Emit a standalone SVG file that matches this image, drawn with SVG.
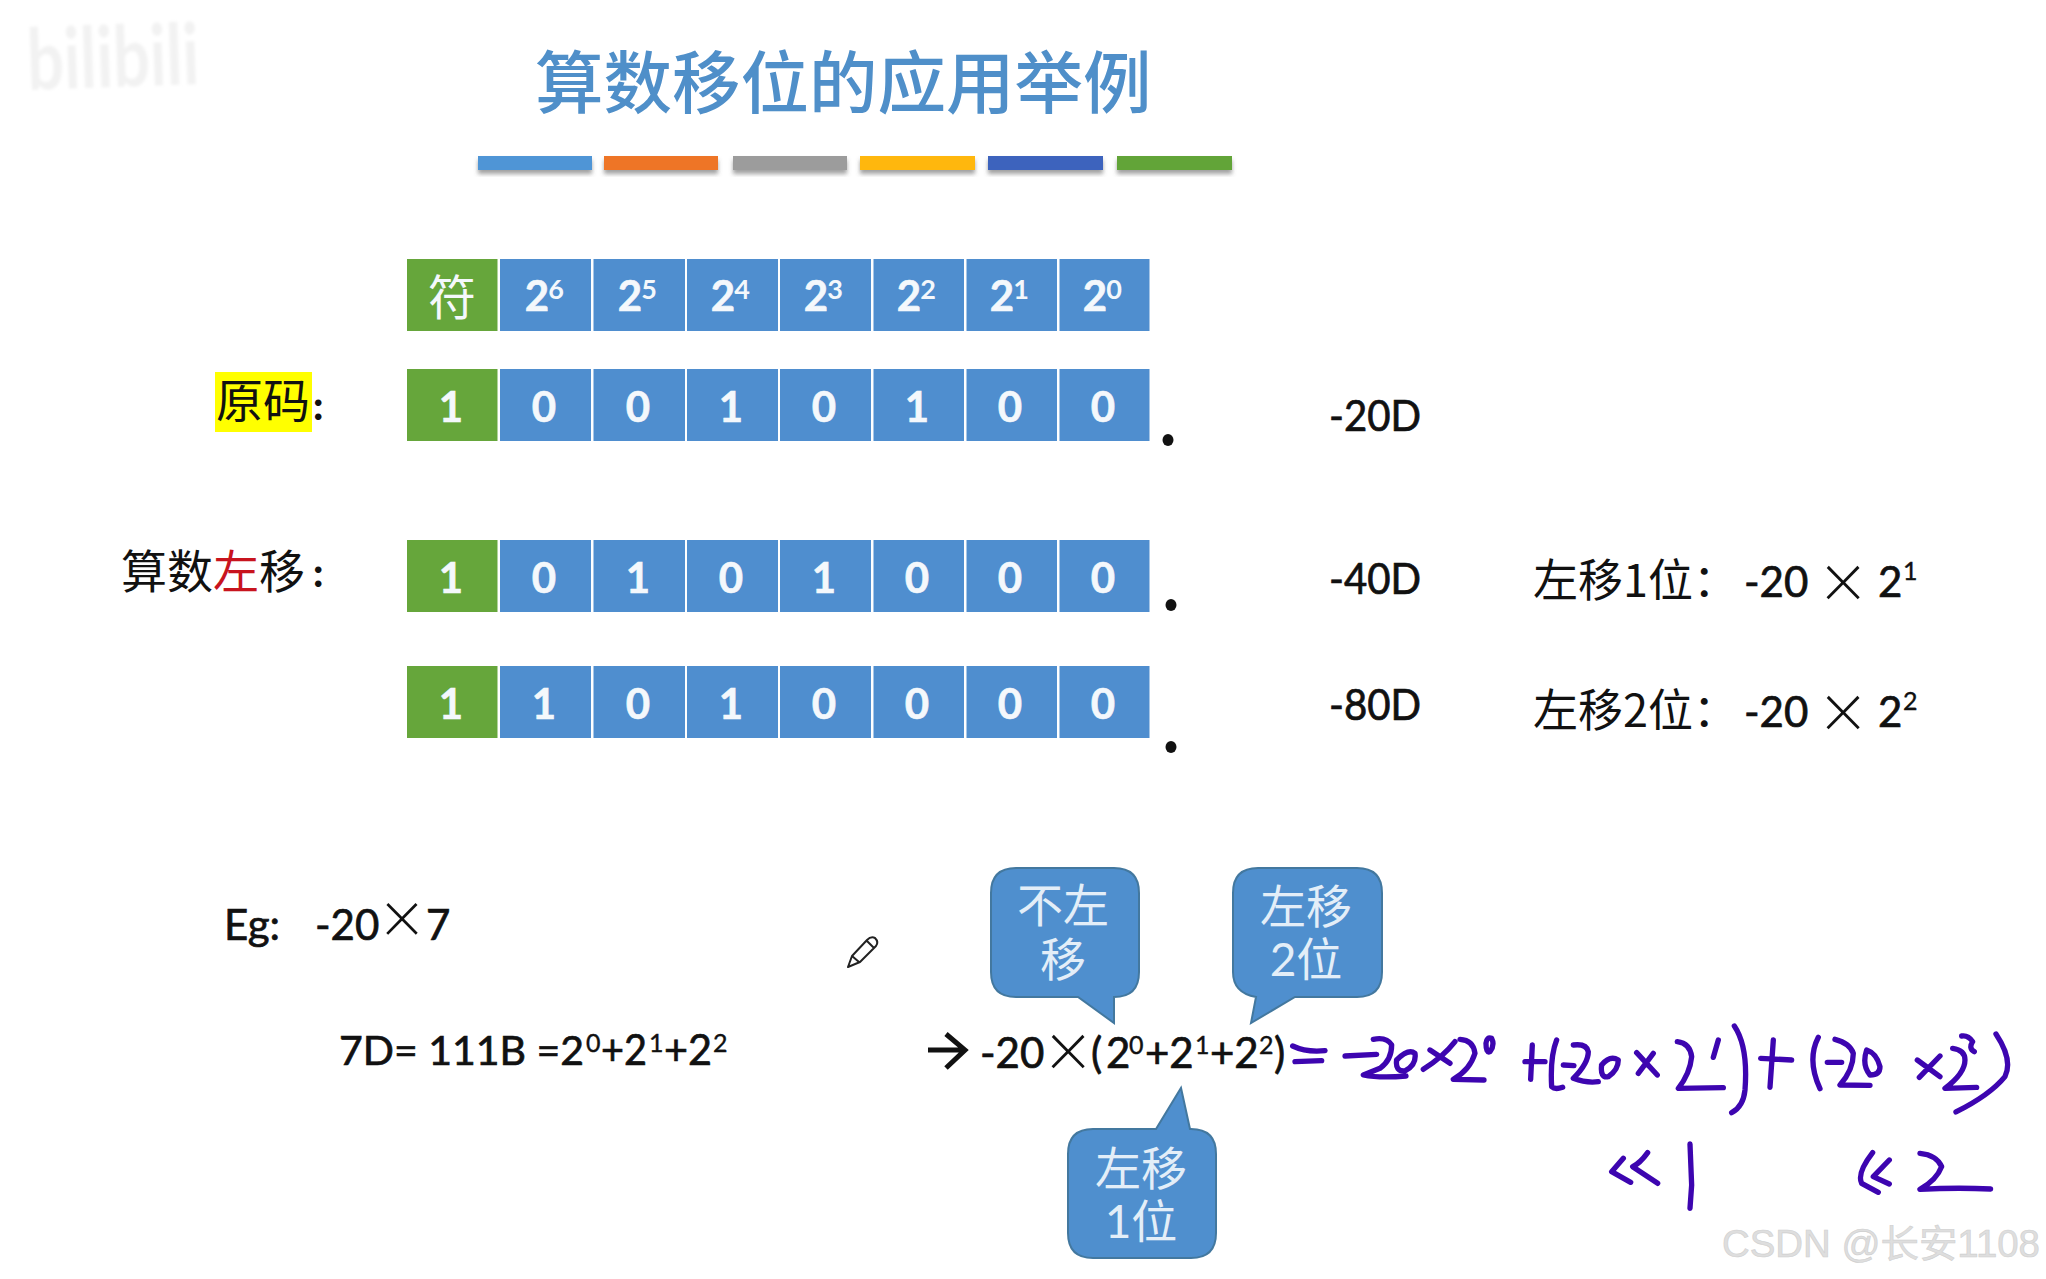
<svg xmlns="http://www.w3.org/2000/svg" width="2046" height="1279" viewBox="0 0 2046 1279">
<style>
text{font-family:Lato,"Noto Sans CJK SC",sans-serif;fill:#111}
.cjk{font-family:"Noto Sans CJK SC",sans-serif}
.bit{font-size:42px;font-weight:700;fill:#f4f8fc;text-anchor:middle;stroke:#f4f8fc;stroke-width:.6}
.sup{font-size:27px;font-weight:700;fill:#f4f8fc;text-anchor:middle}
.b{fill:#4f8ecf}.g{fill:#66a63b}
.t{font-size:42px;stroke:#111;stroke-width:.7}.s{font-size:25px;stroke:#111;stroke-width:.4}
.x{font-family:Lato,sans-serif;font-weight:300;text-anchor:middle}
.call{fill:#4f8fce;stroke:#43789f;stroke-width:2}
.ct{font-size:46px;fill:#e3eef8;text-anchor:middle}
.ink{fill:none;stroke:#3d05b0;stroke-width:16;stroke-linecap:round;stroke-linejoin:round}
.bar{filter:url(#sh)}
</style>
<defs>
<filter id="sh" x="-5%" y="-30%" width="110%" height="180%"><feDropShadow dx="0" dy="4" stdDeviation="2" flood-color="#555" flood-opacity=".55"/></filter>
<filter id="soft" x="-5%" y="-5%" width="110%" height="110%"><feGaussianBlur stdDeviation="1.6"/></filter>
</defs>
<rect width="2046" height="1279" fill="#fff"/>

<g id="watermark-bilibili"><text transform="translate(28,90) rotate(-2)" font-size="84" font-weight="700" textLength="172" lengthAdjust="spacingAndGlyphs" filter="url(#soft)" style="fill:#f2f2f2">bilibili</text></g>

<g id="title"><text class="cjk" x="535" y="108" font-size="68.5" font-weight="500" style="fill:#4f8fc9">算数移位的应用举例</text></g>

<g id="color-bars">
<rect class="bar" x="478" y="156" width="114" height="14" fill="#4f95d6"/>
<rect class="bar" x="604" y="156" width="114" height="14" fill="#ee7425"/>
<rect class="bar" x="733" y="156" width="114" height="14" fill="#9c9c9c"/>
<rect class="bar" x="860" y="156" width="115" height="14" fill="#ffb70a"/>
<rect class="bar" x="988" y="156" width="115" height="14" fill="#3c63bd"/>
<rect class="bar" x="1117" y="156" width="115" height="14" fill="#62a437"/>
</g>

<g id="row-header">
<rect class="g" x="407" y="259" width="90.5" height="72"/>
<rect class="b" x="500" y="259" width="91" height="72"/><rect class="b" x="593.5" y="259" width="91.5" height="72"/><rect class="b" x="687" y="259" width="91" height="72"/><rect class="b" x="780" y="259" width="91" height="72"/><rect class="b" x="873.5" y="259" width="90.5" height="72"/><rect class="b" x="966.5" y="259" width="90.5" height="72"/><rect class="b" x="1059.5" y="259" width="90" height="72"/>
<text class="cjk" x="452" y="315" font-size="48" text-anchor="middle" style="fill:#f4f8fc">符</text>
<text class="bit" x="537" y="311">2</text><text class="sup" x="556" y="299">6</text>
<text class="bit" x="630" y="311">2</text><text class="sup" x="649" y="299">5</text>
<text class="bit" x="723" y="311">2</text><text class="sup" x="742" y="299">4</text>
<text class="bit" x="816" y="311">2</text><text class="sup" x="835" y="299">3</text>
<text class="bit" x="909" y="311">2</text><text class="sup" x="928" y="299">2</text>
<text class="bit" x="1002" y="311">2</text><text class="sup" x="1021" y="299">1</text>
<text class="bit" x="1095" y="311">2</text><text class="sup" x="1114" y="299">0</text>
</g>

<g id="row-original">
<rect x="215" y="372" width="97" height="60" fill="#ffff00"/>
<text class="cjk" x="216" y="418" font-size="47" font-weight="400">原码</text>
<text x="313" y="420" font-size="40" font-weight="900">:</text>
<rect class="g" x="407" y="369" width="90.5" height="72"/>
<rect class="b" x="500" y="369" width="91" height="72"/><rect class="b" x="593.5" y="369" width="91.5" height="72"/><rect class="b" x="687" y="369" width="91" height="72"/><rect class="b" x="780" y="369" width="91" height="72"/><rect class="b" x="873.5" y="369" width="90.5" height="72"/><rect class="b" x="966.5" y="369" width="90.5" height="72"/><rect class="b" x="1059.5" y="369" width="90" height="72"/>
<text class="bit" x="451" y="422">1</text><text class="bit" x="544" y="422">0</text><text class="bit" x="638" y="422">0</text><text class="bit" x="731" y="422">1</text><text class="bit" x="824" y="422">0</text><text class="bit" x="917" y="422">1</text><text class="bit" x="1010" y="422">0</text><text class="bit" x="1103" y="422">0</text>
<ellipse cx="1168" cy="440" rx="5.5" ry="6" fill="#111"/>
<text class="t" x="1329" y="431" textLength="92" lengthAdjust="spacingAndGlyphs">-20D</text>
</g>

<g id="row-left1">
<text class="cjk" x="121" y="588" font-size="46">算数<tspan style="fill:#c8141e">左</tspan>移</text>
<text x="313" y="587" font-size="40" font-weight="900">:</text>
<rect class="g" x="407" y="540" width="90.5" height="72"/>
<rect class="b" x="500" y="540" width="91" height="72"/><rect class="b" x="593.5" y="540" width="91.5" height="72"/><rect class="b" x="687" y="540" width="91" height="72"/><rect class="b" x="780" y="540" width="91" height="72"/><rect class="b" x="873.5" y="540" width="90.5" height="72"/><rect class="b" x="966.5" y="540" width="90.5" height="72"/><rect class="b" x="1059.5" y="540" width="90" height="72"/>
<text class="bit" x="451" y="593">1</text><text class="bit" x="544" y="593">0</text><text class="bit" x="638" y="593">1</text><text class="bit" x="731" y="593">0</text><text class="bit" x="824" y="593">1</text><text class="bit" x="917" y="593">0</text><text class="bit" x="1010" y="593">0</text><text class="bit" x="1103" y="593">0</text>
<ellipse cx="1171" cy="605" rx="5.5" ry="6" fill="#111"/>
<text class="t" x="1329" y="594" textLength="92" lengthAdjust="spacingAndGlyphs">-40D</text>
<text class="cjk" x="1533" y="597" font-size="45">左移1位：</text>
<text class="t" x="1744" y="597">-20</text>
<text class="x" x="1843" y="609" font-size="78">×</text>
<text class="t" x="1878" y="597">2</text><text class="s" x="1903" y="580">1</text>
</g>

<g id="row-left2">
<rect class="g" x="407" y="666" width="90.5" height="72"/>
<rect class="b" x="500" y="666" width="91" height="72"/><rect class="b" x="593.5" y="666" width="91.5" height="72"/><rect class="b" x="687" y="666" width="91" height="72"/><rect class="b" x="780" y="666" width="91" height="72"/><rect class="b" x="873.5" y="666" width="90.5" height="72"/><rect class="b" x="966.5" y="666" width="90.5" height="72"/><rect class="b" x="1059.5" y="666" width="90" height="72"/>
<text class="bit" x="451" y="719">1</text><text class="bit" x="544" y="719">1</text><text class="bit" x="638" y="719">0</text><text class="bit" x="731" y="719">1</text><text class="bit" x="824" y="719">0</text><text class="bit" x="917" y="719">0</text><text class="bit" x="1010" y="719">0</text><text class="bit" x="1103" y="719">0</text>
<ellipse cx="1171" cy="747" rx="5.5" ry="6" fill="#111"/>
<text class="t" x="1329" y="720" textLength="92" lengthAdjust="spacingAndGlyphs">-80D</text>
<text class="cjk" x="1533" y="727" font-size="45">左移2位：</text>
<text class="t" x="1744" y="727">-20</text>
<text class="x" x="1843" y="739" font-size="78">×</text>
<text class="t" x="1878" y="727">2</text><text class="s" x="1903" y="710">2</text>
</g>

<g id="example">
<text class="t" x="224" y="940">Eg:</text>
<text class="t" x="315" y="940">-20</text>
<text class="x" x="402" y="944" font-size="74">×</text>
<text class="t" x="426" y="940">7</text>
<text class="t" x="339" y="1065" style="font-size:41px">7D= 111B =2</text>
<text class="s" x="586" y="1052">0</text><text class="t" x="601" y="1065" textLength="46" lengthAdjust="spacingAndGlyphs">+2</text>
<text class="s" x="649" y="1052">1</text><text class="t" x="664" y="1065" textLength="48" lengthAdjust="spacingAndGlyphs">+2</text>
<text class="s" x="713" y="1052">2</text>
</g>

<g id="pencil">
<path d="M848 967 L852 956 L867 940 Q871 936 875 938 Q879 942 876 946 L860 962 Z M867 941 L874 948 M852 956 L859 962" fill="#fff" stroke="#222" stroke-width="2" stroke-linejoin="round"/>
</g>

<g id="formula">
<path d="M928 1050 H963 M946 1034 L965 1050 L946 1068" fill="none" stroke="#111" stroke-width="5"/>
<text class="t" x="980" y="1068">-20</text>
<text class="x" x="1068" y="1078" font-size="78">×</text>
<text class="t" x="1091" y="1068">(</text><text class="t" x="1106" y="1068">2</text><text class="s" x="1129" y="1054">0</text>
<text class="t" x="1145" y="1068">+2</text><text class="s" x="1195" y="1054">1</text>
<text class="t" x="1210" y="1068">+2</text><text class="s" x="1259" y="1054">2</text><text class="t" x="1274" y="1068">)</text>
</g>

<g id="callout-1">
<path class="call" d="M1016 868 H1114 Q1139 868 1139 893 V972 Q1139 997 1114 997 V1023 L1078 997 H1016 Q991 997 991 972 V893 Q991 868 1016 868 Z"/>
<text class="ct" x="1063" y="922">不左</text><text class="ct" x="1063" y="976">移</text>
</g>
<g id="callout-2">
<path class="call" d="M1258 868 H1357 Q1382 868 1382 893 V972 Q1382 997 1357 997 H1295 L1251 1023 L1256 997 Q1233 993 1233 972 V893 Q1233 868 1258 868 Z"/>
<text class="ct" x="1306" y="923">左移</text><text class="ct" x="1306" y="976">2位</text>
</g>
<g id="callout-3">
<path class="call" d="M1093 1129 H1156 L1181 1088 L1190 1129 H1191 Q1216 1129 1216 1154 V1233 Q1216 1258 1191 1258 H1093 Q1068 1258 1068 1233 V1154 Q1068 1129 1093 1129 Z"/>
<text class="ct" x="1141" y="1185">左移</text><text class="ct" x="1141" y="1238">1位</text>
</g>

<g id="handwriting">
<g transform="translate(1280,1010) scale(.3333)"><path class="ink" d="M38 108 Q80 128 135 122 M45 155 L125 152 M195 138 L290 133 M280 88 Q320 80 335 105 Q335 150 300 175 L250 195 Q300 205 378 198 M350 150 Q345 185 375 183 Q410 165 405 130 Q385 115 350 150 M450 120 L510 160 M430 178 Q490 140 525 95 M540 88 Q580 90 585 130 Q570 180 520 208 L612 210 M618 100 Q618 130 630 125 Q645 105 635 85 Q620 80 618 100 M735 155 L795 155 M757 105 L752 208 M830 90 Q810 140 815 230 Q825 240 848 232 M850 165 L882 167 M880 105 Q920 100 925 125 Q925 160 880 205 Q920 220 955 215 M965 165 Q960 205 985 200 Q1015 180 1015 150 Q990 135 965 165 M1070 128 L1132 195 M1120 130 L1075 190"/></g>
<g transform="translate(1640,1010) scale(.3333)"><path class="ink" d="M112 95 Q150 100 155 140 Q150 190 115 235 L250 233 M235 90 L220 142 M283 48 Q325 110 315 240 Q310 290 275 308 M362 145 L455 150 M400 90 L390 232 M535 82 Q500 150 540 236 M562 157 L605 157 M585 88 Q630 100 640 130 Q640 180 600 225 L690 226 M680 120 Q665 165 690 195 Q720 195 720 170 Q710 130 680 120 M832 150 L900 200 M900 138 L838 202 M938 115 Q975 120 975 150 Q975 190 915 235 L1010 232 M965 78 Q985 75 998 95 Q985 115 1003 125 M1068 72 Q1120 150 1095 200 Q1050 255 948 306"/></g>
<g transform="translate(1590,1130) scale(.3333)"><path class="ink" d="M100 85 L65 125 L122 157 M173 68 Q150 100 128 110 L203 160 M300 42 L305 165 L300 235 M848 68 Q800 130 815 160 L865 187 M898 90 L850 140 L898 162 M990 70 Q1040 75 1055 110 Q1040 150 990 178 Q1100 172 1202 177"/></g>
</g>

<g id="watermark-csdn"><text x="1722" y="1257" font-size="38" textLength="318" lengthAdjust="spacingAndGlyphs" style="font-family:'Liberation Sans','Noto Sans CJK SC',sans-serif;fill:#dedede;stroke:#cfcfcf;stroke-width:.6">CSDN @长安1108</text></g>
</svg>
